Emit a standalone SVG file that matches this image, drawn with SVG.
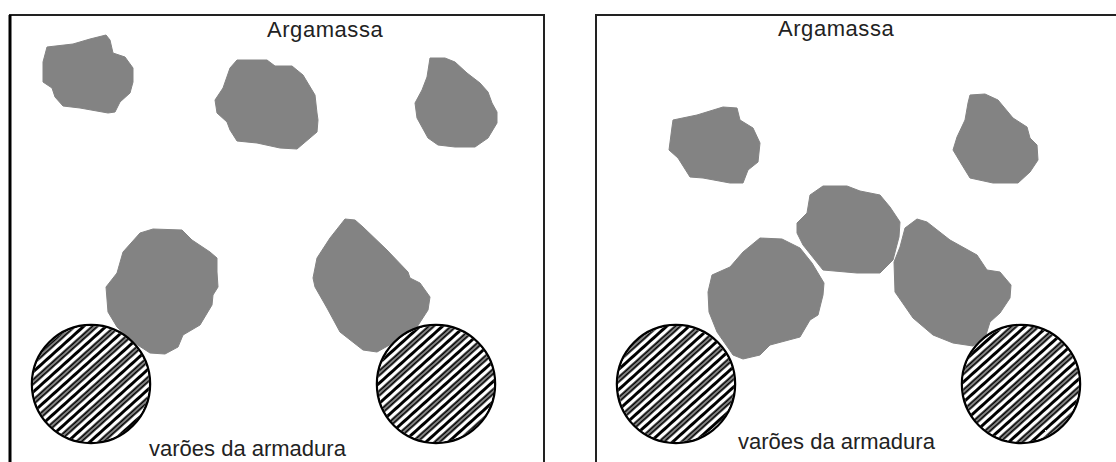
<svg xmlns="http://www.w3.org/2000/svg" width="1116" height="462" viewBox="0 0 1116 462">
<style>
.t{font-family:"Liberation Sans",Arial,sans-serif;font-size:22px;fill:#222}
.a{letter-spacing:.55px}
.s{fill:#838383;stroke:#838383;stroke-width:1;stroke-linejoin:round}
.f{fill:none;stroke:#222;stroke-width:2}
.b{fill:#fff;stroke:#000;stroke-width:2.5}
</style>
<defs>
<pattern id="hatch" width="15" height="15" patternUnits="userSpaceOnUse" patternTransform="rotate(-42)">
<rect width="15" height="15" fill="#000"/>
<rect y="0" width="15" height="3.3" fill="#fff"/>
<rect y="5.5" width="15" height="1" fill="#fff"/>
<rect y="8.7" width="15" height="3.3" fill="#fff"/>
</pattern>
</defs>
<rect width="1116" height="462" fill="#fff"/>
<g id="panel-left">
<path d="M10 462V15H544V462" class="f"/>
<path d="M10 15V462" class="f" style="stroke-width:3;stroke:#000"/>
<text class="t a" x="267" y="37">Argamassa</text>
<text class="t" x="149" y="456">varões da armadura</text>
</g>
<g id="panel-right">
<path d="M596 462V15H1116" class="f"/>
<text class="t a" x="778" y="36">Argamassa</text>
<text class="t" x="738" y="449">varões da armadura</text>
</g>
<g id="stones-left">
<path class="s" d="M47 47L73 44L90 39L106 35L110 40L113 53L125 57L133 68L133 82L130 93L120 102L115 112L108 113L80 108L63 106L55 97L52 88L43 82L43 62Z"/>
<path class="s" d="M237 60L267 60L275 66L292 66L303 75L315 95L317 113L318 120L317 132L297 149L280 148L257 143L237 141L230 130L227 122L217 113L215 100L223 88L230 68Z"/>
<path class="s" d="M430 58L445 58L455 62L467 73L480 83L488 92L492 103L497 112L497 123L488 138L475 147L455 147L438 145L428 138L417 118L415 103L422 90L427 77Z"/>
<path class="s" d="M140 233L153 229L182 230L192 240L210 252L217 258L217 272L218 287L213 295L212 305L200 325L183 335L178 347L165 354L150 353L133 342L117 327L108 312L106 287L117 273L123 252Z"/>
<path class="s" d="M345 219L355 220L363 227L387 250L408 272L410 278L420 283L430 297L428 310L417 327L393 343L377 352L363 350L340 332L327 308L315 287L313 278L317 258L330 238Z"/>
</g>
<g id="stones-right">
<path class="s" d="M673 120L697 115L723 107L737 108L740 120L753 128L760 143L758 162L748 170L743 183L730 183L703 178L690 177L678 158L669 150L672 127Z"/>
<path class="s" d="M970 95L985 94L998 100L1013 118L1027 127L1030 138L1037 145L1038 160L1030 172L1018 183L993 183L970 178L962 165L953 150L957 137L965 120L968 103Z"/>
<path class="s" d="M823 186L847 186L860 191L880 195L890 207L900 222L899 237L893 260L880 273L857 273L823 270L815 260L803 245L797 233L797 223L807 213L810 195Z"/>
<path class="s" d="M760 238L782 239L800 248L812 263L824 283L823 295L818 315L810 320L800 337L770 345L760 355L743 359L733 355L717 332L709 312L708 292L712 275L730 267L743 252Z"/>
<path class="s" d="M917 219L927 222L950 240L977 255L987 270L1000 272L1011 285L1010 298L1000 313L990 322L985 338L973 346L953 343L933 335L913 318L895 292L894 262L900 247L905 228Z"/>
</g>
<g id="bar-1"><circle cx="91" cy="384" r="59" class="b"/><circle cx="91" cy="384" r="58" fill="url(#hatch)"/></g>
<g id="bar-2"><circle cx="436" cy="384" r="59" class="b"/><circle cx="436" cy="384" r="58" fill="url(#hatch)"/></g>
<g id="bar-3"><circle cx="676" cy="384" r="59" class="b"/><circle cx="676" cy="384" r="58" fill="url(#hatch)"/></g>
<g id="bar-4"><circle cx="1021" cy="384" r="59" class="b"/><circle cx="1021" cy="384" r="58" fill="url(#hatch)"/></g>
</svg>
